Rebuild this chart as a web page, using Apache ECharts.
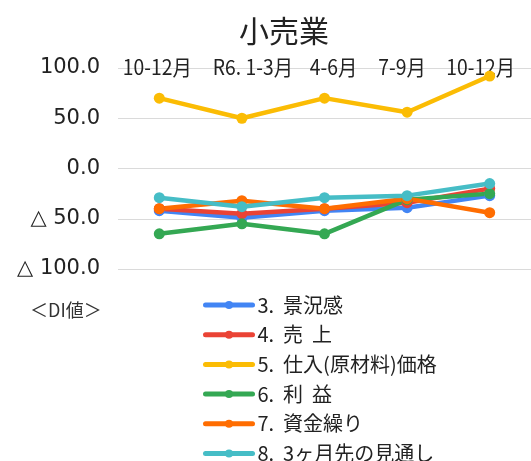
<!DOCTYPE html>
<html><head><meta charset="utf-8">
<script src="https://cdn.jsdelivr.net/npm/echarts@6/dist/echarts.min.js"></script>
<style>html,body{margin:0;padding:0;background:#fff}#c{width:531px;height:461px}</style>
</head><body><div id="c"></div>
<script>
const categories = ["10-12月", "R6. 1-3月", "4-6月", "7-9月", "10-12月"];
const seriesNames = ["3.  景況感", "4.  売  上", "5.  仕入(原材料)価格", "6.  利  益", "7.  資金繰り", "8.  3ヶ月先の見通し"];
const keikyo = [-42, -49, -42, -39, -27];
const uriage = [-40, -45, -40, -34, -20];
const shiire = [70, 50, 70, 56, 92];
const rieki = [-65, -55, -65, -31, -25];
const shikin = [-40, -32, -40, -30, -44];
const mitoshi = [-29, -38, -29, -27, -15];
const yTicks = [-100, -50, 0, 50, 100];
const colors = ["#4285F4", "#EA4335", "#FBBC04", "#34A853", "#FF6D01", "#46BDC6"];
const allData = [keikyo, uriage, shiire, rieki, shikin, mitoshi];

const chart = echarts.init(document.getElementById('c'), null, {renderer: 'canvas'});
const cjk = '"Noto Sans CJK JP", "Noto Sans", sans-serif';
chart.setOption({
  animation: false,
  backgroundColor: '#fff',
  title: {
    text: '小売業', left: 279, top: 11, textAlign: 'center',
    textStyle: {fontFamily: cjk, fontSize: 30, fontWeight: 'normal', color: '#222'}
  },
  grid: {left: 118, width: 422, top: 68, height: 201},
  xAxis: {
    type: 'category', position: 'top', data: categories,
    axisLine: {show: false}, axisTick: {show: false},
    axisLabel: {show: false}
  },
  yAxis: {
    type: 'value', min: yTicks[0], max: yTicks[yTicks.length - 1], interval: 50,
    axisLine: {show: false}, axisTick: {show: false},
    splitLine: {lineStyle: {color: '#dadada', width: 1}},
    axisLabel: {margin: 18, fontSize: 21, color: '#222', fontFamily: '"DejaVu Sans", sans-serif',
      formatter: v => (v < 0 ? '△ ' : '') + Math.abs(v).toFixed(1)}
  },
  legend: {
    orient: 'vertical', left: 198, top: 290, height: 300, itemWidth: 47, itemHeight: 10, itemGap: 9.7,
    textStyle: {fontFamily: cjk, fontSize: 20, color: '#222'},
    lineStyle: {width: 5, cap: 'round'},
    data: seriesNames
  },
  series: seriesNames.map((n, i) => ({
    name: n, type: 'line', data: allData[i],
    symbol: 'circle', symbolSize: 11,
    lineStyle: {width: 4.5, color: colors[i]},
    itemStyle: {color: colors[i]}
  }))
});

// condensed category labels placed through the axis scale
const labelShift = [-2, 11, 9, -5, -9];
const yTop = chart.convertToPixel({yAxisIndex: 0}, yTicks[yTicks.length - 1]);
const labelGraphics = categories.map((c, i) => ({
  type: 'text',
  x: chart.convertToPixel({xAxisIndex: 0}, i) + labelShift[i],
  y: yTop - 1,
  scaleX: 0.92,
  style: {text: c, font: '21px "Noto Sans CJK JP", sans-serif', fill: '#222',
    align: 'center', verticalAlign: 'middle'}
}));
chart.setOption({
  graphic: [{
    type: 'text', left: 30, top: 301,
    style: {text: '＜DI値＞', font: '18px "Noto Sans CJK JP", sans-serif', fill: '#333'}
  }].concat(labelGraphics)
});
</script></body></html>
